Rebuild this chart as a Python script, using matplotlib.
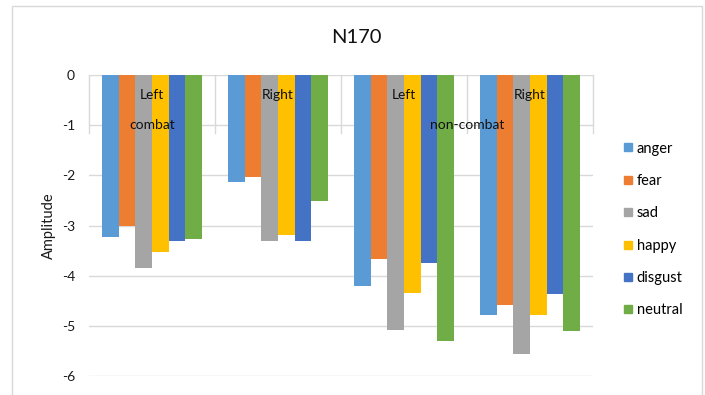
import numpy as np
import matplotlib.pyplot as plt
from matplotlib.patches import Rectangle
from matplotlib.lines import Line2D

# -----------------------------
# DATA
# -----------------------------
sides = ["Left", "Right", "Left", "Right"]
conditions = ["combat", "non-combat"]
emotions = ["anger", "fear", "sad", "happy", "disgust", "neutral"]
colors = ["#5B9BD5", "#ED7D31", "#A5A5A5", "#FFC000", "#4472C4", "#70AD47"]

# mean N170 amplitude per emotion, one value per side/condition column
anger = [-3.22, -2.13, -4.21, -4.79]
fear = [-3.01, -2.03, -3.67, -4.58]
sad = [-3.84, -3.30, -5.08, -5.56]
happy = [-3.53, -3.19, -4.35, -4.79]
disgust = [-3.31, -3.31, -3.75, -4.37]
neutral = [-3.26, -2.52, -5.30, -5.11]
series = [anger, fear, sad, happy, disgust, neutral]

# -----------------------------
# FIGURE
# -----------------------------
plt.rcParams['font.family'] = ['Lato', 'DejaVu Sans']
fig = plt.figure(figsize=(7.05, 3.95), dpi=100)
ax = fig.add_axes([0.1262, 0.048, 0.7149, 0.762])

x = np.arange(len(sides))
bw = 0.794 / len(emotions)
for i, (name, vals, c) in enumerate(zip(emotions, series, colors)):
    offs = (i - (len(emotions) - 1) / 2) * bw
    ax.bar(x + offs, vals, bw, color=c, label=name, zorder=3)

ax.set_xlim(-0.5, len(sides) - 0.5)
ax.set_ylim(-6, 0)
ax.set_yticks(range(-6, 1))
ax.set_yticklabels([str(v) for v in range(-6, 1)])
ax.tick_params(axis='y', length=0, pad=10, labelsize=10, labelcolor='#1a1a1a')
ax.set_xticks([])
for s in ax.spines.values():
    s.set_visible(False)
ax.grid(axis='y', color='#d9d9d9', linewidth=1, zorder=0)

# category separators hanging from the zero line
for b in np.arange(-0.5, len(sides), 1.0):
    ax.plot([b, b], [0, -1.16], color='#d9d9d9', linewidth=1, zorder=1, clip_on=False)

# two-level category labels
for xi, s in zip(x, sides):
    ax.text(xi, -0.40, s, ha='center', va='center', fontsize=10, color='#111111', zorder=5)
ax.text(0, -1.0, conditions[0], ha='center', va='center', fontsize=10, color='#111111', zorder=5)
ax.text(2.5, -1.0, conditions[1], ha='center', va='center', fontsize=10, color='#111111', zorder=5)

ax.set_ylabel("Amplitude", fontsize=10.5, color='#1a1a1a', labelpad=4)
fig.text(0.506, 0.905, "N170", ha='center', va='center', fontsize=14.5, color='#111111')

# legend on the right
handles = [Line2D([], [], marker='s', linestyle='none', markersize=6,
                  markerfacecolor=c, markeredgecolor=c) for c in colors]
fig.legend(handles, emotions, loc='center left', bbox_to_anchor=(0.874, 0.419),
           frameon=False, fontsize=10.5, handlelength=0.6, handletextpad=0.3,
           labelspacing=1.26, borderpad=0)

# outer chart border
fig.patches.append(Rectangle((12 / 705, -0.1), 690 / 705, 1.1 - 6 / 395,
                             transform=fig.transFigure, fill=False,
                             edgecolor='#d9d9d9', linewidth=1))

fig.savefig("out.png", dpi=100)
